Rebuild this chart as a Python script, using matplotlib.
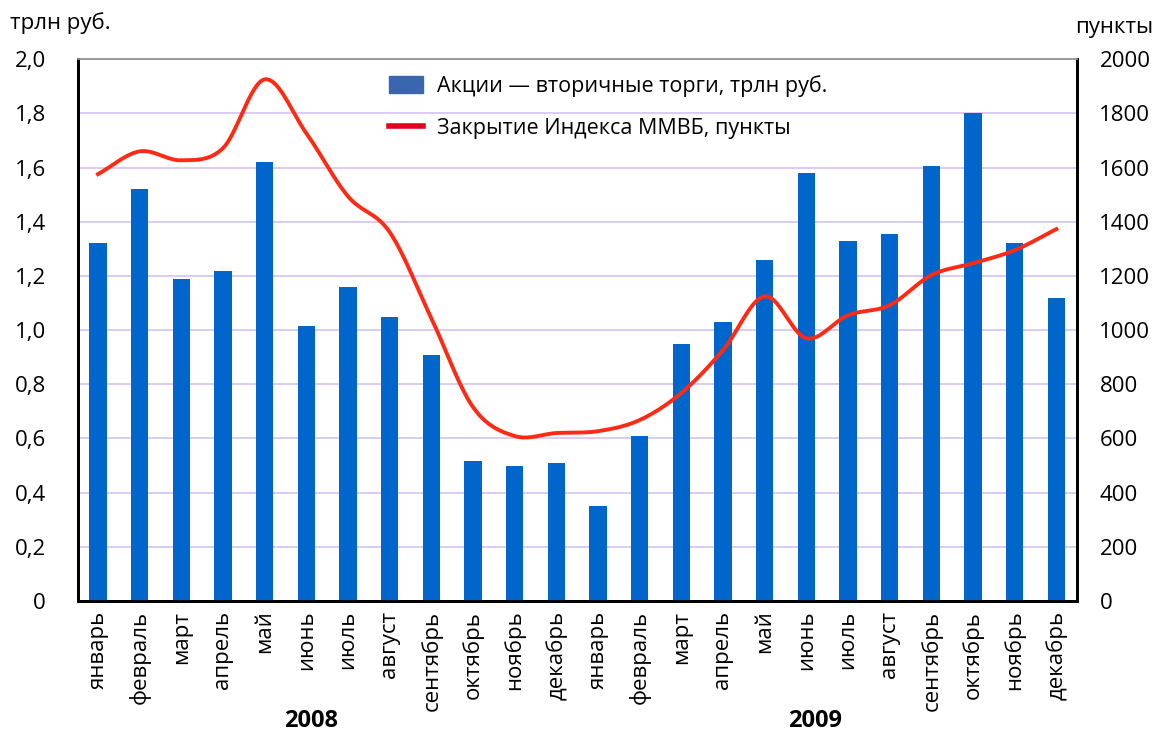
import numpy as np
import matplotlib
matplotlib.use('Agg')
import matplotlib.pyplot as plt
from matplotlib.patches import Patch
from matplotlib.lines import Line2D

plt.rcParams['font.family'] = ['Open Sans', 'DejaVu Sans']

months = ['январь', 'февраль', 'март', 'апрель', 'май', 'июнь', 'июль', 'август',
          'сентябрь', 'октябрь', 'ноябрь', 'декабрь']
labels = months + months
years = ['2008', '2009']

# secondary trading volume, trln rub
volume = [1.32, 1.52, 1.19, 1.22, 1.62, 1.015, 1.16, 1.05, 0.91, 0.515, 0.50, 0.51,
          0.35, 0.61, 0.95, 1.03, 1.26, 1.58, 1.33, 1.355, 1.605, 1.80, 1.32, 1.12]
# MICEX index close, points
micex = [1576, 1660, 1627, 1672, 1926, 1727, 1494, 1362, 1044, 716, 609, 620,
         627, 668, 768, 926, 1125, 970, 1055, 1092, 1203, 1247, 1295, 1373]


def smooth(y, steps=20):
    # Catmull-Rom curve through the points, for drawing only
    y = np.asarray(y, float)
    p = np.concatenate([[2 * y[0] - y[1]], y, [2 * y[-1] - y[-2]]])
    xs, ys = [], []
    t = np.linspace(0, 1, steps, endpoint=False)
    for i in range(len(y) - 1):
        p0, p1, p2, p3 = p[i], p[i + 1], p[i + 2], p[i + 3]
        seg = 0.5 * (2 * p1 + (-p0 + p2) * t + (2 * p0 - 5 * p1 + 4 * p2 - p3) * t ** 2
                     + (-p0 + 3 * p1 - 3 * p2 + p3) * t ** 3)
        xs.append(i + t)
        ys.append(seg)
    xs.append([len(y) - 1])
    ys.append([y[-1]])
    return np.concatenate(xs), np.concatenate(ys)


fig = plt.figure(figsize=(11.57, 7.32), dpi=100)
ax = fig.add_axes([0.0674, 0.179, 0.8636, 0.740])
ax2 = ax.twinx()

x = np.arange(len(volume))
ax.bar(x, volume, width=0.41, color='#0066cc', zorder=3)
ax.set_ylim(0, 2.0)
ax.set_xlim(-0.48, 23.5)
ax.set_yticks(np.arange(0, 2.01, 0.2))
ax.set_yticklabels(['0'] + [f'{v:.1f}'.replace('.', ',') for v in np.arange(0.2, 2.01, 0.2)])
ax.grid(axis='y', color='#d5c2f3', linewidth=1.2, zorder=0)
ax.set_axisbelow(True)
ax.set_xticks(x)
ax.set_xticklabels(labels, rotation=90, fontsize=16, va='top')
ax.tick_params(axis='both', length=0, labelsize=16)
ax.tick_params(axis='y', pad=23)
ax.tick_params(axis='x', pad=7)

sx, sy = smooth(micex)
ax2.plot(sx, sy, color='#ff2a14', linewidth=2.8, zorder=4)
ax2.set_ylim(0, 2000)
ax2.set_yticks(np.arange(0, 2001, 200))
ax2.tick_params(axis='y', length=0, labelsize=16, pad=16)

for a in (ax, ax2):
    a.spines['top'].set_color('#9a9a9a')
    a.spines['top'].set_linewidth(1.2)
    a.spines['left'].set_linewidth(2)
    a.spines['right'].set_linewidth(2)
    a.spines['bottom'].set_linewidth(2)

fig.text(0.009, 0.969, 'трлн руб.', fontsize=16, va='center', ha='left')
fig.text(0.997, 0.962, 'пункты', fontsize=16, va='center', ha='right')
fig.text(311 / 1157, 1 - 721 / 732, years[0], fontsize=17, fontweight='bold', ha='center', va='center')
fig.text(815 / 1157, 1 - 721 / 732, years[1], fontsize=17, fontweight='bold', ha='center', va='center')

handles = [Patch(color='#3a66b0'), Line2D([0], [0], color='#e60020', linewidth=4)]
fig.legend(handles, ['Акции — вторичные торги, трлн руб.', 'Закрытие Индекса ММВБ, пункты'],
           loc='upper left', bbox_to_anchor=(370 / 1157, 1 - 56 / 732), frameon=False,
           fontsize=15.5, handlelength=1.55, handleheight=0.85, labelspacing=0.95,
           handletextpad=0.65)

fig.savefig('out.png', dpi=100)
